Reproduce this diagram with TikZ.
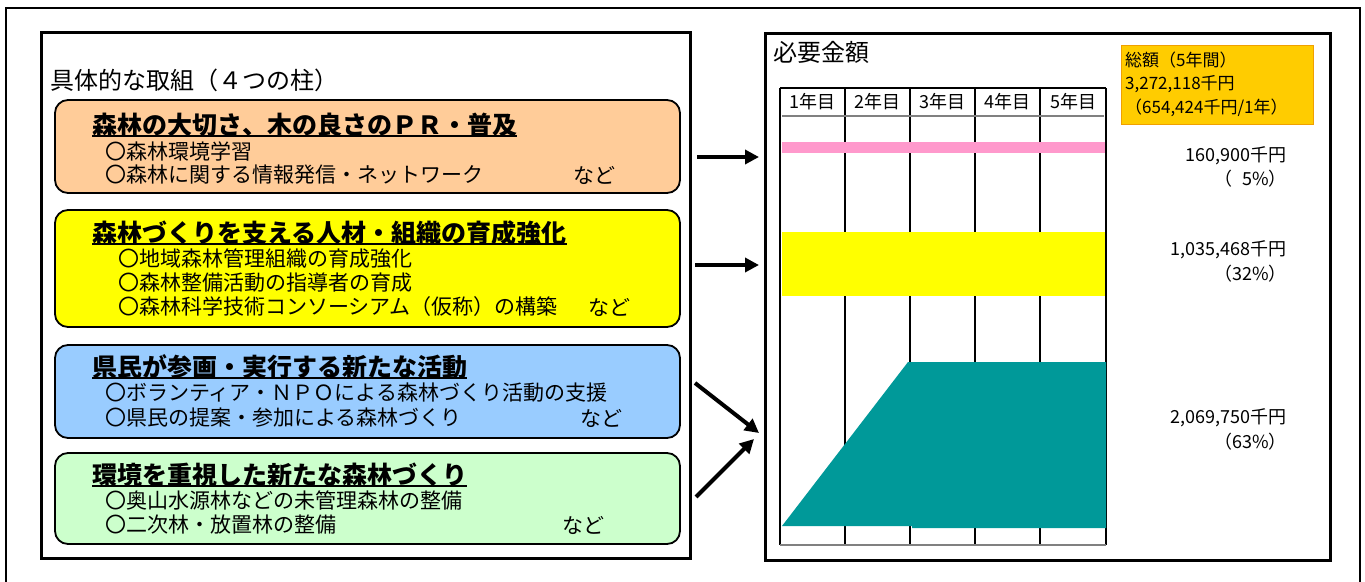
\documentclass[tikz,border=0pt]{standalone}
\usepackage{fontspec}
\setmainfont{Noto Sans CJK JP}
\usetikzlibrary{arrows.meta}
\definecolor{pOrange}{HTML}{FFCC99}
\definecolor{pYellow}{HTML}{FFFF00}
\definecolor{pBlue}{HTML}{99CCFF}
\definecolor{pGreen}{HTML}{CCFFCC}
\definecolor{barPink}{HTML}{FF99CC}
\definecolor{barTeal}{HTML}{009999}
\definecolor{goldFill}{HTML}{FFCC00}
\definecolor{goldEdge}{HTML}{F0A000}
\definecolor{gridGray}{HTML}{808080}
\begin{document}
\begin{tikzpicture}[x=1pt,y=-1pt,
  every node/.style={inner sep=0pt},
  frame/.style={draw=black, line width=3pt, fill=white},
  pillar/.style={draw=black, line width=1.8pt, rounded corners=13pt, minimum width=625pt},
  ptitle/.style={anchor=west, font=\fontsize{25}{25}\selectfont\bfseries},
  pline/.style={anchor=west, font=\fontsize{21}{21}\selectfont},
  bigtitle/.style={anchor=west, font=\fontsize{24}{24}\selectfont},
  uline/.style={line width=1.6pt},
  bigarrow/.style={line width=4pt, -{Triangle[length=14pt,width=14pt]}},
  gridline/.style={draw=black, line width=1.2pt},
  hdr/.style={font=\fontsize{18}{18}\selectfont},
  amount/.style={anchor=east, font=\fontsize{18}{18}\selectfont},
  goldtxt/.style={anchor=west, font=\fontsize{17}{17}\selectfont}
]
\useasboundingbox (0,0) rectangle (1365,581);
% outer frame
\draw[line width=1.5pt] (6,585) -- (6,8) -- (1360,8) -- (1360,585);

% left panel
\node[frame, minimum width=649pt, minimum height=526pt] (lbox) at (365.5,295) {};
\node[bigtitle] (ltitle) at (50,80) {具体的な取組（４つの柱）};

% pillar 1
\node[pillar, fill=pOrange, minimum height=93pt] (p1) at (367.5,146.5) {};
\node[ptitle] (h1) at (92,125) {森林の大切さ、木の良さのＰＲ・普及};
\draw[uline] ([yshift=-11pt]h1.west) -- ([yshift=-11pt]h1.east);
\node[pline] (p1a) at (105,151) {〇森林環境学習};
\node[pline] (p1b) at (105,175) {〇森林に関する情報発信・ネットワーク};
\node[pline] (p1c) at (573,175) {など};

% pillar 2
\node[pillar, fill=pYellow, minimum height=117pt] (p2) at (367.5,268.5) {};
\node[ptitle] (h2) at (92,233) {森林づくりを支える人材・組織の育成強化};
\draw[uline] ([yshift=-11pt]h2.west) -- ([yshift=-11pt]h2.east);
\node[pline] (p2a) at (118,259) {〇地域森林管理組織の育成強化};
\node[pline] (p2b) at (118,283) {〇森林整備活動の指導者の育成};
\node[pline] (p2c) at (118,307) {〇森林科学技術コンソーシアム（仮称）の構築};
\node[pline] (p2d) at (588,307) {など};

% pillar 3
\node[pillar, fill=pBlue, minimum height=93pt] (p3) at (367.5,391.5) {};
\node[ptitle] (h3) at (92,367) {県民が参画・実行する新たな活動};
\draw[uline] ([yshift=-11pt]h3.west) -- ([yshift=-11pt]h3.east);
\node[pline] (p3a) at (105,393) {〇ボランティア・ＮＰＯによる森林づくり活動の支援};
\node[pline] (p3b) at (105,418) {〇県民の提案・参加による森林づくり};
\node[pline] (p3c) at (580,418) {など};

% pillar 4
\node[pillar, fill=pGreen, minimum height=91pt] (p4) at (367.5,498.5) {};
\node[ptitle] (h4) at (92,475) {環境を重視した新たな森林づくり};
\draw[uline] ([yshift=-11pt]h4.west) -- ([yshift=-11pt]h4.east);
\node[pline] (p4a) at (105,500) {〇奥山水源林などの未管理森林の整備};
\node[pline] (p4b) at (105,525) {〇二次林・放置林の整備};
\node[pline] (p4c) at (562,525) {など};

% arrows
\coordinate (a1s) at (697,157); \coordinate (a1e) at (759,157);
\coordinate (a2s) at (695,265); \coordinate (a2e) at (759,265);
\coordinate (a3s) at (695,383); \coordinate (a3e) at (759,433);
\coordinate (a4s) at (696,497); \coordinate (a4e) at (754,439);
\draw[bigarrow] (a1s) -- (a1e);
\draw[bigarrow] (a2s) -- (a2e);
\draw[bigarrow] (a3s) -- (a3e);
\draw[bigarrow] (a4s) -- (a4e);

% right panel
\node[frame, minimum width=565pt, minimum height=527pt] (rbox) at (1047.5,296.5) {};
\node[bigtitle] (rtitle) at (773,52) {必要金額};

% chart grid
\foreach \x in {780,845,910,975,1040,1106} \draw[gridline] (\x,88) -- (\x,545);
\draw[gridline] (780,88) -- (1106,88);
\draw[draw=gridGray, line width=1.8pt] (782,116) -- (1104,116);
\draw[draw=gridGray, line width=1.5pt] (780,545) -- (1106,545);
\foreach \i/\x in {1/812.5,2/877.5,3/942.5,4/1007.5,5/1073}
  \node[hdr] (yr\i) at (\x,102) {{\i}年目};

% bars
\fill[barPink] (782,142) rectangle (1105,153);
\fill[pYellow] (782,232) rectangle (1105,296);
\fill[barTeal] (782,526) -- (908,362) -- (1106,362) -- (1106,528) -- (912,528) -- (912,526) -- cycle;

% total box
\node[draw=goldEdge, fill=goldFill, line width=0.8pt, minimum width=192pt, minimum height=79pt] (gold) at (1217,84.5) {};
\node[goldtxt] (g1) at (1125,60) {総額（5年間）};
\node[goldtxt] (g2) at (1125,84) {3,272,118千円};
\node[goldtxt] (g3) at (1125,108) {（654,424千円/1年）};

% amounts
\node[amount] (m1) at (1287,156) {160,900千円};
\node[amount] (m1p) at (1287,179) {（\phantom{3}5\%）};
\node[amount] (m2) at (1287,250) {1,035,468千円};
\node[amount] (m2p) at (1287,274) {（32\%）};
\node[amount] (m3) at (1287,418) {2,069,750千円};
\node[amount] (m3p) at (1287,442) {（63\%）};
\end{tikzpicture}
\end{document}
